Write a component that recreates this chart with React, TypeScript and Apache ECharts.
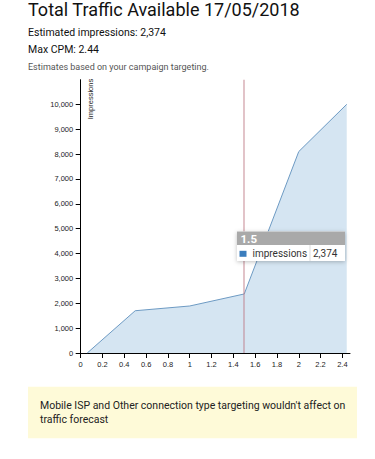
import React, { useEffect, useRef } from "react";
import * as echarts from "echarts";

const cpmValues = [0.06, 0.5, 1.0, 1.5, 2.0, 2.44];
const impressionValues = [0, 1700, 1890, 2374, 8100, 10000];
const selectedCpm = 1.5;
const selectedImpressions = 2374;
const titleText = "Total Traffic Available 17/05/2018";
const infoLines = ["Estimated impressions: 2,374", "Max CPM: 2.44"];
const noteText = "Estimates based on your campaign targeting.";
const warningLines = [
  "Mobile ISP and Other connection type targeting wouldn't affect on",
  "traffic forecast",
];

const FONT = "Roboto, 'Liberation Sans', Arial, sans-serif";
const AXIS_FONT = "'Liberation Sans', Arial, sans-serif";

export default function App() {
  const ref = useRef<HTMLDivElement>(null);
  useEffect(() => {
    if (!ref.current) return;
    const chart = echarts.init(ref.current, null, { renderer: "svg" });
    const data = cpmValues.map((x, i) => [x, impressionValues[i]]);
    const TZ = 100;
    chart.setOption({
      animation: false,
      grid: { left: 80.7, right: 25, top: 79.7, bottom: 106, containLabel: false },
      xAxis: {
        type: "value",
        min: 0,
        max: 2.47,
        interval: 0.2,
        axisLine: { show: true, onZero: false, lineStyle: { color: "#000", width: 1 } },
        axisTick: { show: true, length: 5, lineStyle: { color: "#000" } },
        axisLabel: {
          showMaxLabel: false,
          margin: 7,
          fontSize: 7.5,
          fontFamily: AXIS_FONT,
          color: "#222",
          formatter: (v: number) => String(Math.round(v * 10) / 10),
        },
        splitLine: { show: false },
      },
      yAxis: {
        type: "value",
        min: 0,
        max: 10990,
        interval: 1000,
        axisLine: { show: true, lineStyle: { color: "#000", width: 1 } },
        axisTick: { show: true, length: 5, lineStyle: { color: "#000" } },
        axisLabel: {
          showMaxLabel: false,
          margin: 7.5,
          fontSize: 7.5,
          fontFamily: AXIS_FONT,
          color: "#222",
          formatter: (v: number) => v.toLocaleString("en-US"),
        },
        splitLine: { show: false },
      },
      series: [
        {
          type: "line",
          data,
          symbol: "none",
          lineStyle: { color: "#6d9ac3", width: 1 },
          areaStyle: { color: "#d5e5f2", opacity: 1 },
          z: 2,
          markLine: {
            silent: true,
            symbol: "none",
            label: { show: false },
            lineStyle: { color: "rgba(190,120,132,0.55)", width: 1.6, type: "solid" },
            data: [{ xAxis: selectedCpm }],
            z: 3,
          },
        },
      ],
      graphic: [
        {
          type: "text",
          left: 28,
          top: 0,
          style: { text: titleText, font: `18px ${FONT}`, fill: "#111" },
        },
        {
          type: "text",
          left: 28,
          top: 27,
          style: { text: infoLines[0], font: `10.5px ${FONT}`, fill: "#111" },
        },
        {
          type: "text",
          left: 28,
          top: 43.5,
          style: { text: infoLines[1], font: `10.5px ${FONT}`, fill: "#111" },
        },
        {
          type: "text",
          left: 28,
          top: 62,
          style: { text: noteText, font: `9px ${FONT}`, fill: "#555" },
        },
        {
          type: "text",
          x: 90,
          y: 99,
          rotation: Math.PI / 2,
          style: {
            text: "Impressions",
            font: `7.5px ${AXIS_FONT}`,
            fill: "#222",
            align: "center",
            verticalAlign: "middle",
          },
        },
        {
          type: "text",
          x: 346,
          y: 347,
          style: {
            text: "CPM",
            font: `7.5px ${AXIS_FONT}`,
            fill: "#222",
            align: "right",
            verticalAlign: "middle",
          },
        },
        {
          type: "rect",
          z: TZ,
          shape: { x: 237, y: 231.5, width: 108, height: 29.5 },
          style: { fill: "#fff", shadowBlur: 4, shadowColor: "rgba(0,0,0,0.25)", shadowOffsetY: 1 },
        },
        {
          type: "rect",
          z: TZ + 1,
          shape: { x: 237, y: 231.5, width: 108, height: 13.5 },
          style: { fill: "#a9a9a9" },
        },
        {
          type: "text",
          z: TZ + 2,
          x: 240.5,
          y: 238.5,
          style: {
            text: String(selectedCpm),
            font: `bold 11.5px ${FONT}`,
            fill: "#fff",
            verticalAlign: "middle",
          },
        },
        {
          type: "rect",
          z: TZ + 2,
          shape: { x: 239.5, y: 250.8, width: 7, height: 6 },
          style: { fill: "#3b7dbd" },
        },
        {
          type: "text",
          z: TZ + 2,
          x: 252.5,
          y: 253.7,
          style: {
            text: "impressions",
            font: `10px ${FONT}`,
            fill: "#333",
            verticalAlign: "middle",
          },
        },
        {
          type: "line",
          z: TZ + 2,
          shape: { x1: 310, y1: 245, x2: 310, y2: 261 },
          style: { stroke: "#ddd", lineWidth: 1 },
        },
        {
          type: "text",
          z: TZ + 2,
          x: 313,
          y: 253.7,
          style: {
            text: selectedImpressions.toLocaleString("en-US"),
            font: `10px ${FONT}`,
            fill: "#333",
            verticalAlign: "middle",
          },
        },
        {
          type: "rect",
          shape: { x: 28, y: 386.7, width: 329, height: 51.6 },
          style: { fill: "#fefad8" },
        },
        {
          type: "text",
          x: 40,
          y: 405,
          style: {
            text: warningLines[0],
            font: `10.5px ${FONT}`,
            fill: "#222",
            verticalAlign: "middle",
          },
        },
        {
          type: "text",
          x: 40,
          y: 419.3,
          style: {
            text: warningLines[1],
            font: `10.5px ${FONT}`,
            fill: "#222",
            verticalAlign: "middle",
          },
        },
      ],
    });
    return () => chart.dispose();
  }, []);
  return (
    <div
      ref={ref}
      style={{ position: "fixed", left: 0, top: 0, width: 375, height: 459, background: "#fff" }}
    />
  );
}
